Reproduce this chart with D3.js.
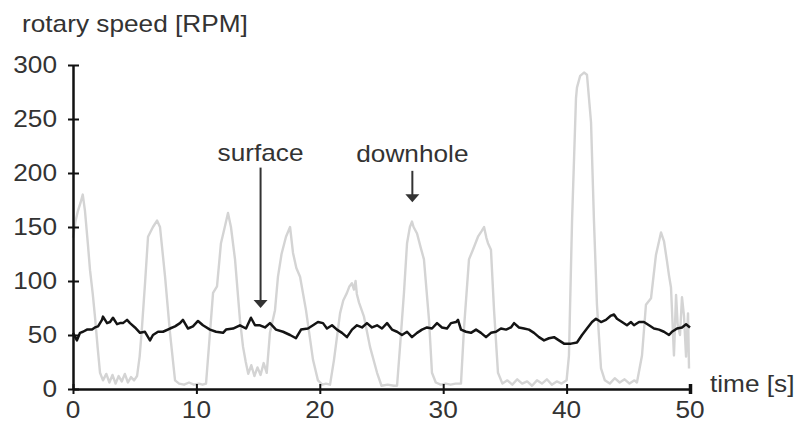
<!DOCTYPE html>
<html>
<head>
<meta charset="utf-8">
<script src="https://cdn.jsdelivr.net/npm/d3@7"></script>
<style>
  html, body { margin: 0; padding: 0; background: #fff; }
  svg { display: block; }
  text { font-family: "Liberation Sans", Arial, sans-serif; fill: #333; }
</style>
</head>
<body>
<svg id="chart" width="798" height="436"></svg>
<script>
// ---------- data ----------
const xTicks = [0, 10, 20, 30, 40, 50];
const yTicks = [0, 50, 100, 150, 200, 250, 300];
const yTitle = "rotary speed [RPM]";
const xTitle = "time [s]";

// downhole rotary speed [time s, RPM]
const downhole = [
  [0,140],[0.2,155],[0.4,165],[0.6,172],[0.79,180],[0.97,165],[1.2,135],[1.38,110],[1.6,88],[1.78,67],
  [2.0,38],[2.19,15],[2.43,8],[2.7,14],[2.95,6],[3.2,13],[3.45,5],[3.7,12],[3.95,7],[4.2,14],
  [4.45,6],[4.7,11],[4.95,8],[5.19,12],[5.4,30],[5.59,57],[5.85,100],[6.08,141],[6.48,150],[6.81,156],
  [7.05,150],[7.46,104],[7.86,52],[8.27,8],[8.6,5],[9.0,4],[9.4,6],[9.8,4],[10.2,5],[10.5,4],
  [10.78,5],[11.1,52],[11.35,89],[11.67,95],[11.99,135],[12.3,150],[12.56,163],[12.8,150],[13.13,120],[13.53,64],
  [13.78,39],[14.0,25],[14.2,14],[14.45,22],[14.7,12],[14.95,20],[15.2,13],[15.45,24],[15.7,15],[15.96,52],
  [16.37,73],[16.61,104],[16.9,125],[17.26,141],[17.59,150],[17.83,126],[18.1,112],[18.4,104],[18.88,73],[19.45,27],
  [19.85,8],[20.2,4],[20.5,5],[20.83,4],[21.15,27],[21.64,70],[21.9,82],[22.2,89],[22.4,95],[22.6,98],
  [22.77,92],[22.9,100],[23.0,88],[23.18,80],[23.58,67],[24.07,39],[24.64,15],[25.0,3],[25.5,4],[26.0,3],
  [26.26,3],[26.5,39],[26.82,89],[27.07,135],[27.3,150],[27.47,155],[27.6,150],[27.88,144],[28.2,130],[28.44,120],
  [28.85,64],[29.09,15],[29.4,6],[29.8,4],[30.2,5],[30.6,4],[31.0,5],[31.44,5],[31.69,57],[32.09,120],
  [32.41,129],[32.82,141],[33.1,146],[33.31,150],[33.5,140],[33.63,135],[33.87,129],[34.12,73],[34.44,15],[34.8,5],
  [35.2,8],[35.6,4],[36.0,9],[36.4,5],[36.8,7],[37.2,3],[37.6,8],[38.0,5],[38.4,9],[38.8,4],
  [39.2,7],[39.6,5],[40.0,8],[40.19,31],[40.44,155],[40.76,269],[40.84,279],[41.1,290],[41.41,293],[41.65,291],
  [41.98,247],[42.22,155],[42.46,78],[42.79,19],[43.1,8],[43.5,5],[43.9,10],[44.3,6],[44.7,9],[45.1,5],
  [45.5,8],[45.7,6],[46.11,31],[46.43,78],[46.84,84],[47.0,100],[47.24,124],[47.65,145],[47.89,137],[48.14,118],
  [48.3,105],[48.46,94],[48.7,31],[48.87,87],[49.0,60],[49.19,50],[49.35,85],[49.51,68],[49.68,30],[49.84,70],
  [49.92,19]
];

// surface rotary speed [time s, RPM]
const surface = [
  [0,52],[0.32,45],[0.57,52],[0.81,53],[1.13,55],[1.54,55],[1.78,57],[2.03,58],[2.35,64],[2.43,67],
  [2.76,61],[3.0,62],[3.24,66],[3.57,60],[3.81,61],[4.05,61],[4.38,64],[4.62,61],[5.02,57],[5.43,52],
  [5.83,53],[6.24,45],[6.48,50],[6.89,53],[7.29,53],[7.86,56],[8.27,58],[8.67,61],[8.91,64],[9.32,56],
  [9.72,58],[10.13,63],[10.53,59],[11.10,55],[11.59,53],[12.16,52],[12.40,55],[12.97,56],[13.53,59],[14.02,56],
  [14.42,66],[14.75,59],[15.15,59],[15.56,57],[15.96,61],[16.45,55],[17.02,53],[17.59,50],[18.07,47],[18.48,55],
  [19.04,56],[19.45,59],[19.85,62],[20.26,61],[20.58,56],[20.99,59],[21.39,55],[21.80,52],[22.20,48],[22.61,55],
  [23.01,59],[23.42,57],[23.82,61],[24.23,57],[24.64,59],[25.04,56],[25.45,61],[25.85,55],[26.26,53],[26.66,50],
  [27.07,53],[27.47,48],[27.88,52],[28.28,55],[28.69,57],[29.09,56],[29.50,61],[29.90,57],[30.31,56],[30.63,61],
  [31.04,62],[31.20,64],[31.44,55],[31.85,53],[32.25,52],[32.66,55],[33.06,52],[33.47,48],[33.87,52],[34.28,53],
  [34.68,56],[35.09,55],[35.49,57],[35.74,61],[36.14,57],[36.55,56],[36.95,55],[37.36,52],[37.76,48],[38.17,45],
  [38.57,47],[38.98,48],[39.38,45],[39.79,42],[40.36,42],[40.84,43],[41.25,50],[41.65,56],[42.06,62],[42.38,65],
  [42.79,62],[43.19,64],[43.60,68],[43.84,69],[44.08,65],[44.49,62],[44.89,59],[45.22,62],[45.46,59],[45.87,62],
  [46.27,62],[46.68,59],[47.08,56],[47.49,55],[47.89,53],[48.30,50],[48.54,53],[48.95,56],[49.35,57],[49.68,60],
  [50,57]
];

// annotations: time of arrow, RPM of arrow tip, RPM of arrow start, RPM of label baseline
const annotations = [
  { name: "surface",  t: 15.2, tip: 75,  start: 205, text: 211 },
  { name: "downhole", t: 27.5, tip: 173, start: 202, text: 210 }
];

// ---------- chart ----------
const svg = d3.select("#chart");
svg.append("rect").attr("width", 798).attr("height", 436).attr("fill", "#fff");

const x = d3.scaleLinear().domain([0, 50]).range([73, 690]);
const y = d3.scaleLinear().domain([0, 300]).range([389, 65]);

const SX = 1.14;
function label(sel, px, py, s, anchor, size) {
  return sel.append("text")
    .attr("transform", `translate(${px},${py}) scale(${SX},1)`)
    .attr("text-anchor", anchor)
    .style("font-size", size + "px")
    .text(s);
}

// lines
const line = d3.line().x(d => x(d[0])).y(d => y(d[1]));
svg.append("path").datum(downhole)
  .attr("d", line).attr("fill", "none")
  .attr("stroke", "#d4d4d4").attr("stroke-width", 2.4).attr("stroke-linejoin", "round");
svg.append("path").datum(surface)
  .attr("d", line).attr("fill", "none")
  .attr("stroke", "#141414").attr("stroke-width", 2.5).attr("stroke-linejoin", "round");

// y axis
const gy = svg.append("g").attr("transform", `translate(${x(0)},0)`)
  .call(d3.axisLeft(y).tickValues(yTicks).tickSize(5).tickSizeOuter(0).tickFormat(""));
gy.select(".domain").attr("stroke", "#111").attr("stroke-width", 2.5);
gy.selectAll(".tick line").attr("x1", 6).attr("x2", -5).attr("stroke", "#111").attr("stroke-width", 2);

// x axis
const gx = svg.append("g").attr("transform", `translate(0,${y(0)})`)
  .call(d3.axisBottom(x).tickValues(xTicks).tickSize(5).tickSizeOuter(0).tickFormat(""));
gx.select(".domain").attr("stroke", "#111").attr("stroke-width", 2.5);
gx.selectAll(".tick line").attr("y1", -5).attr("y2", 5).attr("stroke", "#111").attr("stroke-width", 2);
gx.selectAll(".tick").filter(d => d === 50).select("line").attr("stroke-width", 3.5);

// tick labels
yTicks.forEach(v => label(svg, 57, y(v) + 8, String(v), "end", 23));
xTicks.forEach(v => label(svg, x(v), y(0) + 29, String(v), "middle", 23));

// titles
label(svg, 22, 32, yTitle, "start", 23);
label(svg, 710, y(0) + 3, xTitle, "start", 23);

// annotations
annotations.forEach(a => {
  const ax = x(a.t);
  const y0 = y(a.start), y1 = y(a.tip);
  label(svg, ax, y(a.text), a.name, "middle", 23);
  svg.append("line").attr("x1", ax).attr("x2", ax).attr("y1", y0).attr("y2", y1 - 6)
    .attr("stroke", "#333").attr("stroke-width", 2);
  svg.append("path")
    .attr("d", `M${ax - 7},${y1 - 8} L${ax + 7},${y1 - 8} L${ax},${y1} Z`)
    .attr("fill", "#333");
});
</script>
</body>
</html>
